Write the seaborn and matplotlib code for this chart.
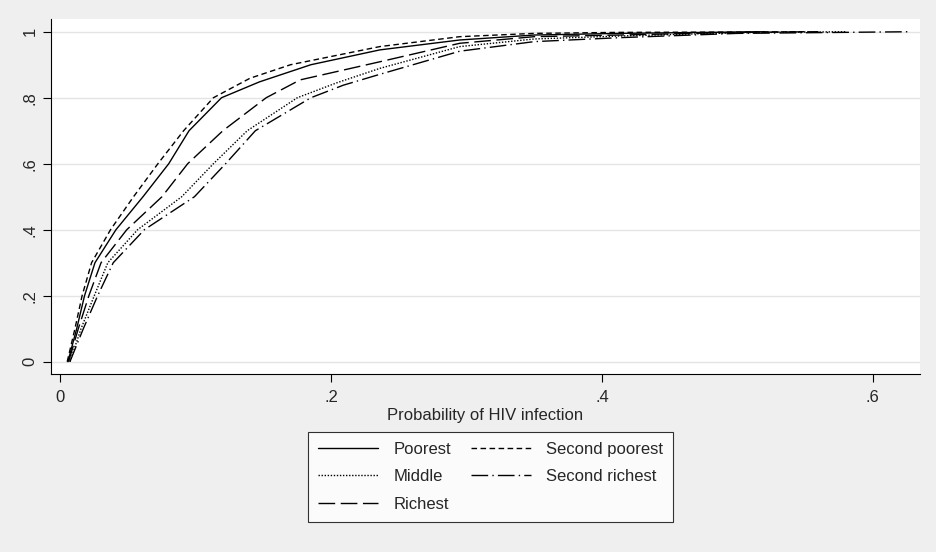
import matplotlib
matplotlib.use("Agg")
import matplotlib.pyplot as plt
import seaborn as sns
import pandas as pd

# CDF of predicted HIV infection probability by wealth quintile
poorest_x = [0.0055, 0.012, 0.0178, 0.0255, 0.041, 0.061, 0.080, 0.095, 0.119, 0.147, 0.185, 0.236, 0.295, 0.35, 0.413, 0.50, 0.52]
poorest_y = [0.0, 0.1, 0.2, 0.3, 0.4, 0.5, 0.6, 0.7, 0.8, 0.848, 0.9, 0.945, 0.975, 0.99, 0.995, 0.999, 1.0]

second_poorest_x = [0.005, 0.0107, 0.016, 0.023, 0.037, 0.054, 0.072, 0.091, 0.113, 0.140, 0.170, 0.236, 0.295, 0.35, 0.413, 0.50, 0.55]
second_poorest_y = [0.0, 0.1, 0.2, 0.3, 0.4, 0.5, 0.6, 0.7, 0.8, 0.859, 0.9, 0.955, 0.985, 0.995, 0.998, 0.999, 1.0]

middle_x = [0.007, 0.0152, 0.025, 0.035, 0.057, 0.0896, 0.113, 0.138, 0.175, 0.204, 0.236, 0.295, 0.35, 0.413, 0.50, 0.58]
middle_y = [0.0, 0.1, 0.2, 0.3, 0.4, 0.5, 0.6, 0.7, 0.8, 0.845, 0.889, 0.955, 0.978, 0.987, 0.997, 1.0]

second_richest_x = [0.007, 0.0169, 0.0275, 0.039, 0.062, 0.099, 0.122, 0.144, 0.185, 0.209, 0.236, 0.295, 0.35, 0.413, 0.50, 0.628]
second_richest_y = [0.0, 0.1, 0.2, 0.3, 0.4, 0.5, 0.6, 0.7, 0.8, 0.838, 0.871, 0.941, 0.97, 0.982, 0.995, 1.0]

richest_x = [0.006, 0.0132, 0.021, 0.030, 0.049, 0.075, 0.094, 0.120, 0.152, 0.177, 0.236, 0.295, 0.35, 0.413, 0.50, 0.56]
richest_y = [0.0, 0.1, 0.2, 0.3, 0.4, 0.5, 0.6, 0.7, 0.8, 0.854, 0.909, 0.965, 0.985, 0.99, 0.998, 1.0]

x_ticks = [0, 0.2, 0.4, 0.6]
x_labels = ["0", ".2", ".4", ".6"]
y_ticks = [0, 0.2, 0.4, 0.6, 0.8, 1.0]
y_labels = ["0", ".2", ".4", ".6", ".8", "1"]

series = [
    ("Poorest", poorest_x, poorest_y, "-"),
    ("Second poorest", second_poorest_x, second_poorest_y, (0, (4, 2.5))),
    ("Middle", middle_x, middle_y, (0, (1, 1.2))),
    ("Second richest", second_richest_x, second_richest_y, (0, (12, 3, 1, 3))),
    ("Richest", richest_x, richest_y, (0, (12, 4))),
]

sns.set_style("white")
plt.rcParams["font.family"] = ["Liberation Sans", "DejaVu Sans"]

fig = plt.figure(figsize=(9.37, 5.52), dpi=100, facecolor="#EFEFEF")
ax = fig.add_axes([0.0541, 0.322, 0.9278, 0.643])
ax.set_facecolor("white")

for name, xs, ys, ls in series:
    df = pd.DataFrame({"x": xs, "y": ys})
    sns.lineplot(data=df, x="x", y="y", ax=ax, color="black", linewidth=1.0,
                 linestyle=ls, sort=False, estimator=None, label=name)

ax.set_xlim(-0.0072, 0.635)
ax.set_ylim(-0.038, 1.0376)
ax.set_xticks(x_ticks)
ax.set_xticklabels(x_labels, fontsize=12)
ax.set_yticks(y_ticks)
ax.set_yticklabels(y_labels, fontsize=12, rotation=90, va="center")
ax.yaxis.grid(True, color="#E4E4E4", linewidth=1.0)
ax.xaxis.grid(False)
ax.tick_params(axis="both", direction="out", length=5.5, width=0.8, color="black",
               left=True, bottom=True, pad=4)
ax.tick_params(axis="x", pad=6)
for side in ["top", "right"]:
    ax.spines[side].set_visible(False)
for side in ["left", "bottom"]:
    ax.spines[side].set_color("black")
    ax.spines[side].set_linewidth(0.8)

ax.set_xlabel("Probability of HIV infection", fontsize=12, labelpad=2)
ax.set_ylabel("")

# legend fills row by row in the reference, so reorder for column-major filling
handles, labels = ax.get_legend_handles_labels()
ax.get_legend().remove()
order = [0, 2, 4, 1, 3]
leg = fig.legend([handles[i] for i in order], [labels[i] for i in order],
                 ncol=2, loc="upper center",
                 bbox_to_anchor=(0.5235, 0.218), frameon=True, fancybox=False,
                 edgecolor="black", facecolor="white", fontsize=12,
                 handlelength=3.6, columnspacing=1.2, handletextpad=0.9,
                 borderpad=0.6, labelspacing=0.75, borderaxespad=0)
leg.get_frame().set_linewidth(0.8)

fig.savefig("out.png", dpi=100, facecolor=fig.get_facecolor())
